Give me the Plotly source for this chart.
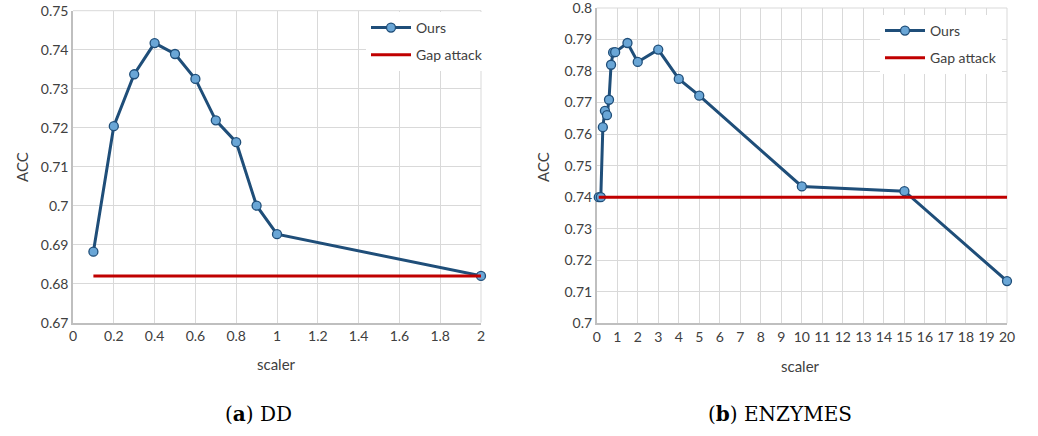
import plotly.graph_objects as go

# ---- data ----
dd_x = [0.1, 0.2, 0.3, 0.4, 0.5, 0.6, 0.7, 0.8, 0.9, 1.0, 2.0]
dd_ours = [0.6882, 0.7204, 0.7337, 0.7417, 0.7389, 0.7325, 0.7219, 0.7163, 0.7000, 0.6927, 0.6820]
dd_gap = [0.682] * len(dd_x)

enz_x = [0.1, 0.2, 0.3, 0.4, 0.5, 0.6, 0.7, 0.8, 0.9, 1.5, 2, 3, 4, 5, 10, 15, 20]
enz_ours = [0.7400, 0.7400, 0.7622, 0.7674, 0.7660, 0.7709, 0.7820, 0.7859, 0.7860,
            0.7889, 0.7829, 0.7868, 0.7775, 0.7722, 0.7434, 0.7419, 0.7134]
enz_gap = [0.740] * len(enz_x)

dd_xticks = [0, 0.2, 0.4, 0.6, 0.8, 1, 1.2, 1.4, 1.6, 1.8, 2]
dd_yticks = [0.67, 0.68, 0.69, 0.70, 0.71, 0.72, 0.73, 0.74, 0.75]
dd_yticklabels = ["0.67", "0.68", "0.69", "0.7", "0.71", "0.72", "0.73", "0.74", "0.75"]
enz_xticks = list(range(0, 21))
enz_yticks = [0.70, 0.71, 0.72, 0.73, 0.74, 0.75, 0.76, 0.77, 0.78, 0.79, 0.80]
enz_yticklabels = ["0.7", "0.71", "0.72", "0.73", "0.74", "0.75", "0.76", "0.77", "0.78", "0.79", "0.8"]

W, H = 1038, 436
FONT = "Lato"
TXT = "#404040"
GRID = "#d9d9d9"
AXL = "#bfbfbf"
BLUE = "#1f4e79"
MFILL = "#6aa6d6"
RED = "#c00000"

fig = go.Figure()

def add_series(x, ours, gap, xa, ya, leg):
    fig.add_trace(go.Scatter(
        x=x, y=ours, xaxis=xa, yaxis=ya, name="Ours", mode="lines+markers",
        line=dict(color=BLUE, width=3),
        marker=dict(size=9, color=MFILL, line=dict(color=BLUE, width=1.3)),
        legend=leg, legendgroup=leg + "o", cliponaxis=False))
    fig.add_trace(go.Scatter(
        x=x, y=gap, xaxis=xa, yaxis=ya, name="Gap attack", mode="lines",
        line=dict(color=RED, width=3), legend=leg, legendgroup=leg + "g",
        cliponaxis=False))

add_series(dd_x, dd_ours, dd_gap, "x", "y", "legend")
add_series(enz_x, enz_ours, enz_gap, "x2", "y2", "legend2")

def px_x(p):
    return p / W

def px_y(p):
    return 1 - p / H

axis_common = dict(showgrid=True, gridcolor=GRID, gridwidth=1, zeroline=False,
                   showline=True, linecolor=AXL, linewidth=1.5, ticks="",
                   automargin=False, layer="below traces", ticklabeloverflow="allow",
                   tickfont=dict(family=FONT, size=14, color=TXT), mirror=False)

fig.update_layout(
    template="none",
    width=W, height=H, margin=dict(l=0, r=0, t=0, b=0, autoexpand=False),
    paper_bgcolor="white", plot_bgcolor="white",
    showlegend=True,
    xaxis=dict(domain=[px_x(73), px_x(481)], range=[0, 2], tickvals=dd_xticks,
               ticktext=[("%g" % v) for v in dd_xticks], anchor="y", **axis_common),
    yaxis=dict(domain=[px_y(322.7), px_y(10.7)], range=[0.67, 0.75], tickvals=dd_yticks,
               ticktext=dd_yticklabels, anchor="x", **axis_common),
    xaxis2=dict(domain=[px_x(596.7), px_x(1007)], range=[0, 20], tickvals=enz_xticks,
                ticktext=[str(v) for v in enz_xticks], anchor="y2", **axis_common),
    yaxis2=dict(domain=[px_y(323.3), px_y(8)], range=[0.70, 0.80], tickvals=enz_yticks,
                ticktext=enz_yticklabels, anchor="x2", **axis_common),
    legend=dict(x=px_x(366), y=px_y(12), xanchor="left", yanchor="top",
                bgcolor="white", font=dict(family=FONT, size=14, color=TXT),
                tracegroupgap=6, itemwidth=40),
    legend2=dict(x=px_x(880), y=px_y(15), xanchor="left", yanchor="top",
                 bgcolor="white", font=dict(family=FONT, size=14, color=TXT),
                 tracegroupgap=6, itemwidth=40),
)

# top / right frame lines matching the grid colour
for xa, ya in (("x", "y"), ("x2", "y2")):
    fig.add_shape(type="line", xref=f"{xa} domain", yref=f"{ya} domain",
                  x0=0, x1=1, y0=1, y1=1, line=dict(color=GRID, width=1), layer="below")
    fig.add_shape(type="line", xref=f"{xa} domain", yref=f"{ya} domain",
                  x0=1, x1=1, y0=0, y1=1, line=dict(color=GRID, width=1), layer="below")

annos = [
    dict(text="ACC", x=px_x(22), y=px_y(167), textangle=-90),
    dict(text="ACC", x=px_x(543), y=px_y(167), textangle=-90),
    dict(text="scaler", x=px_x(276), y=px_y(364)),
    dict(text="scaler", x=px_x(800), y=px_y(366)),
]
for a in annos:
    fig.add_annotation(xref="paper", yref="paper", showarrow=False,
                       xanchor="center", yanchor="middle",
                       font=dict(family=FONT, size=15, color=TXT), **a)

fig.add_annotation(text="(<b>a</b>) DD", xref="paper", yref="paper", x=px_x(258), y=px_y(414),
                   showarrow=False, xanchor="center", yanchor="middle",
                   font=dict(family="DejaVu Serif", size=20, color="black"))
fig.add_annotation(text="(<b>b</b>) ENZYMES", xref="paper", yref="paper", x=px_x(780), y=px_y(414),
                   showarrow=False, xanchor="center", yanchor="middle",
                   font=dict(family="DejaVu Serif", size=20, color="black"))

fig.write_html("out.html", config={"displayModeBar": False},
               post_script="document.body.style.margin='0';document.body.style.overflow='hidden';")
